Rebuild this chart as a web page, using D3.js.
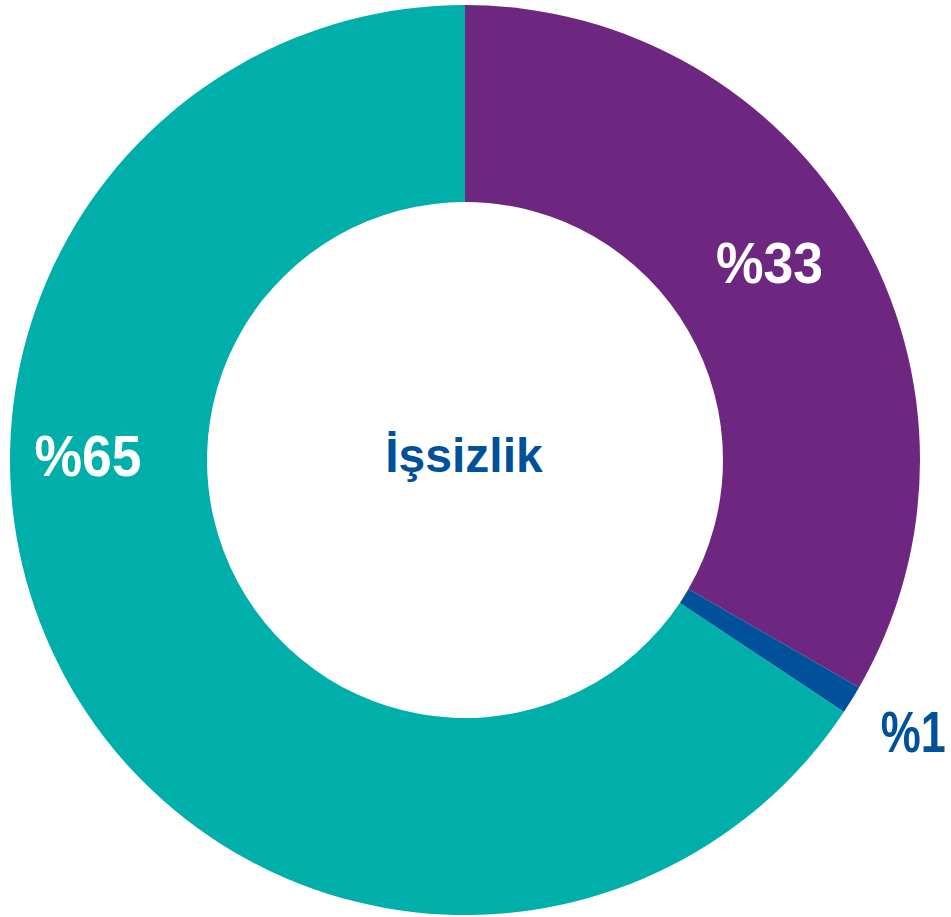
<!DOCTYPE html>
<html>
<head>
<meta charset="utf-8">
<title>issizlik</title>
<script src="https://cdn.jsdelivr.net/npm/d3@7"></script>
<style>
  body { margin: 0; background: #fff; }
  .lbl { font-family: "Liberation Sans", Arial, sans-serif; font-weight: bold; }
</style>
</head>
<body>
<div id="chart"></div>
<script>
var width = 951, height = 917,
    cx = 465, cy = 460,
    outerR = 455, innerR = 258;

// values (share of total)
var categories = ["a", "b", "c"];
var values = [33, 1, 65];
var labels = ["%33", "%1", "%65"];
var colors = ["#6e2780", "#00509a", "#00afa9"];
var centerLabel = "İşsizlik";

// label placement: angle (deg, from 12 o'clock clockwise) and radius
var labelAngle = [57, 121.2, 270.8];
var labelRadius = [363, 524, 377];
var labelWidth = [107, 65, 107];
var labelColor = ["#fff", "#00509a", "#fff"];

var svg = d3.select("#chart").append("svg")
    .attr("width", width)
    .attr("height", height);

var g = svg.append("g")
    .attr("transform", "translate(" + cx + "," + cy + ")");

var pie = d3.pie().sort(null).value(function(d){ return d; });
var arc = d3.arc().innerRadius(innerR).outerRadius(outerR);

g.selectAll("path")
    .data(pie(values))
    .enter()
    .append("path")
    .attr("d", arc)
    .attr("fill", function(d, i){ return colors[i]; });

g.selectAll(".val")
    .data(labels)
    .enter()
    .append("text")
    .attr("class", "lbl val")
    .attr("text-anchor", "middle")
    .attr("font-size", 58)
    .attr("dy", "0.36em")
    .attr("textLength", function(d, i){ return labelWidth[i]; })
    .attr("lengthAdjust", "spacingAndGlyphs")
    .attr("fill", function(d, i){ return labelColor[i]; })
    .attr("transform", function(d, i){
        var p = d3.pointRadial(labelAngle[i] * Math.PI / 180, labelRadius[i]);
        return "translate(" + p[0] + "," + p[1] + ")";
    })
    .text(function(d){ return d; });

g.append("text")
    .attr("class", "lbl")
    .attr("text-anchor", "middle")
    .attr("font-size", 48)
    .attr("x", -1)
    .attr("y", 12)
    .attr("fill", "#00509a")
    .text(centerLabel);
</script>
</body>
</html>
